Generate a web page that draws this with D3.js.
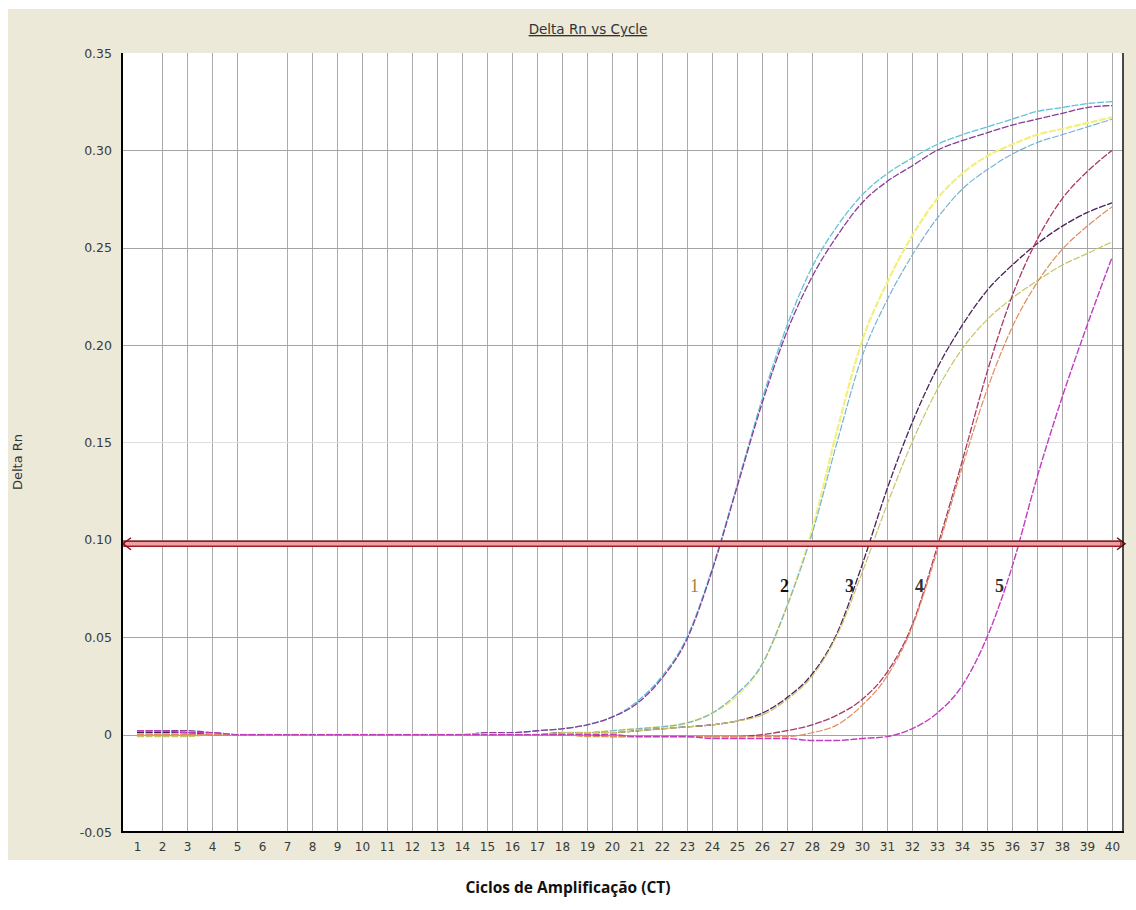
<!DOCTYPE html>
<html>
<head>
<meta charset="utf-8">
<script src="https://cdn.jsdelivr.net/npm/d3@7"></script>
<style>
  html, body { margin: 0; padding: 0; background: #ffffff; }
  svg { display: block; }
</style>
</head>
<body>
<svg id="chart" width="1136" height="910"></svg>
<script>
// ---------------- DATA ----------------
const cycles = [1,2,3,4,5,6,7,8,9,10,11,12,13,14,15,16,17,18,19,20,
                21,22,23,24,25,26,27,28,29,30,31,32,33,34,35,36,37,38,39,40];
const xTickLabels = ["1","2","3","4","5","6","7","8","9","10","11","12","13","14","15","16","17","18","19","20",
                     "21","22","23","24","25","26","27","28","29","30","31","32","33","34","35","36","37","38","39","40"];
const yTickValues = [-0.05, 0, 0.05, 0.10, 0.15, 0.20, 0.25, 0.30, 0.35];
const yTickLabels = ["-0.05", "0", "0.05", "0.10", "0.15", "0.20", "0.25", "0.30", "0.35"];
const gridHidden = [1, 6, 29];
const threshold = 0.098;

const seriesNames = ["1a","1b","2a","2b","3a","3b","4a","4b","5"];
const s1a = [0.002,0.002,0.001,0.001,0.000,0.000,0.000,0.000,0.000,0.000,0.000,0.000,0.000,0.000,0.001,0.001,0.002,0.003,0.005,0.009,
             0.017,0.030,0.050,0.085,0.128,0.172,0.210,0.240,0.261,0.277,0.288,0.296,0.303,0.308,0.312,0.316,0.320,0.322,0.324,0.325];
const s1b = [0.002,0.002,0.002,0.001,0.000,0.000,0.000,0.000,0.000,0.000,0.000,0.000,0.000,0.000,0.001,0.001,0.002,0.003,0.005,0.009,
             0.016,0.029,0.049,0.084,0.127,0.170,0.207,0.235,0.256,0.273,0.284,0.292,0.300,0.305,0.309,0.313,0.316,0.319,0.322,0.323];
const s2a = [0.000,0.000,0.000,0.000,0.000,0.000,0.000,0.000,0.000,0.000,0.000,0.000,0.000,0.000,0.000,0.000,0.000,0.001,0.001,0.002,
             0.003,0.004,0.006,0.011,0.020,0.036,0.066,0.105,0.156,0.202,0.232,0.256,0.275,0.288,0.297,0.303,0.308,0.311,0.314,0.317];
const s2b = [0.000,0.000,0.000,0.000,0.000,0.000,0.000,0.000,0.000,0.000,0.000,0.000,0.000,0.000,0.000,0.000,0.000,0.001,0.001,0.002,
             0.003,0.004,0.006,0.011,0.021,0.036,0.066,0.103,0.150,0.194,0.223,0.246,0.265,0.280,0.290,0.298,0.304,0.308,0.312,0.316];
const s3a = [0.001,0.001,0.001,0.000,0.000,0.000,0.000,0.000,0.000,0.000,0.000,0.000,0.000,0.000,0.000,0.000,0.000,0.001,0.001,0.001,
             0.002,0.003,0.004,0.005,0.007,0.011,0.019,0.031,0.052,0.087,0.126,0.160,0.188,0.210,0.228,0.241,0.252,0.261,0.268,0.273];
const s3b = [-0.001,-0.001,-0.001,0.000,0.000,0.000,0.000,0.000,0.000,0.000,0.000,0.000,0.000,0.000,0.000,0.000,0.000,0.001,0.001,0.001,
             0.002,0.003,0.004,0.005,0.007,0.010,0.018,0.030,0.051,0.083,0.118,0.150,0.177,0.198,0.213,0.224,0.233,0.241,0.247,0.253];
const s4a = [0.000,0.000,0.000,0.000,0.000,0.000,0.000,0.000,0.000,0.000,0.000,0.000,0.000,0.000,0.000,0.000,0.000,0.000,0.000,-0.001,
             -0.001,-0.001,-0.001,-0.001,-0.001,0.000,0.002,0.005,0.010,0.018,0.032,0.056,0.096,0.140,0.186,0.225,0.254,0.275,0.289,0.300];
const s4b = [0.000,0.000,0.000,0.000,0.000,0.000,0.000,0.000,0.000,0.000,0.000,0.000,0.000,0.000,0.000,0.000,0.000,0.000,-0.001,-0.001,
             -0.001,-0.001,-0.001,-0.001,-0.001,-0.001,-0.001,0.001,0.005,0.015,0.030,0.055,0.094,0.137,0.177,0.209,0.232,0.249,0.261,0.271];
const s5  = [0.002,0.002,0.001,0.001,0.000,0.000,0.000,0.000,0.000,0.000,0.000,0.000,0.000,0.000,0.000,0.000,0.000,0.000,0.000,0.000,
             -0.001,-0.001,-0.001,-0.002,-0.002,-0.002,-0.002,-0.003,-0.003,-0.002,-0.001,0.003,0.011,0.025,0.050,0.086,0.132,0.173,0.210,0.245];
const seriesValues = [s1a, s1b, s2a, s2b, s3a, s3b, s4a, s4b, s5];
const seriesColors = ["#5ec4dc","#8a3c98","#f2f07a","#78b4d4","#4a2058","#c8c464","#a83868","#e08c5c","#c23cc0"];
const seriesWidths = [1.3,1.3,2.2,1.2,1.3,1.2,1.3,1.2,1.4];

const curveLabels = ["1","2","3","4","5"];
const curveLabelCycles = [23.3, 26.9, 29.5, 32.3, 35.5];
const curveLabelValues = [0.073, 0.073, 0.073, 0.073, 0.073];
const curveLabelColors = ["#a88040","#111111","#222222","#333333","#333333"];

// ---------------- LAYOUT ----------------
const svg = d3.select("#chart");
const plot = {left: 122, right: 1123, top: 53, bottom: 832};

const x = d3.scaleLinear().domain([0.4, 40.44]).range([plot.left, plot.right]);
const y = d3.scaleLinear().domain([-0.05, 0.35]).range([plot.bottom, plot.top]);

// backgrounds
svg.append("rect").attr("x", 0).attr("y", 0).attr("width", 1136).attr("height", 910).attr("fill", "#ffffff");
svg.append("rect").attr("x", 8).attr("y", 9).attr("width", 1128).attr("height", 851).attr("fill", "#ece9d8");
svg.append("rect").attr("x", plot.left).attr("y", plot.top)
   .attr("width", plot.right - plot.left).attr("height", plot.bottom - plot.top).attr("fill", "#ffffff");

// gridlines
const grid = svg.append("g");
grid.selectAll("line.v").data(cycles.filter(c => !gridHidden.includes(c))).join("line")
  .attr("x1", d => Math.round(x(d)) + 0.5).attr("x2", d => Math.round(x(d)) + 0.5)
  .attr("y1", plot.top).attr("y2", plot.bottom)
  .attr("stroke", "#ababab").attr("stroke-width", 1);
grid.selectAll("line.h").data(yTickValues.filter(v => v > -0.05 && v < 0.35)).join("line")
  .attr("x1", plot.left).attr("x2", plot.right)
  .attr("y1", d => Math.round(y(d)) + 0.5).attr("y2", d => Math.round(y(d)) + 0.5)
  .attr("stroke", d => Math.abs(d - 0.15) < 1e-6 ? "#dedede" : "#a4a4a4").attr("stroke-width", 1);

// curves
const line = d3.line()
  .x((d, i) => x(cycles[i]))
  .y(d => y(d))
  .curve(d3.curveMonotoneX);
svg.append("g").selectAll("path").data(seriesValues).join("path")
  .attr("d", d => line(d))
  .attr("fill", "none")
  .attr("stroke", (d, i) => seriesColors[i])
  .attr("stroke-width", (d, i) => seriesWidths[i])
  .attr("stroke-dasharray", "7,1.6");

// threshold line (double red with arrowheads)
const ty = y(threshold);
const thr = svg.append("g");
thr.append("rect").attr("x", plot.left + 2).attr("y", ty - 2.5)
   .attr("width", plot.right - plot.left - 4).attr("height", 5)
   .attr("fill", "#eea0a4").attr("stroke", "#a0141c").attr("stroke-width", 1.4);
thr.append("path")
   .attr("d", `M${plot.left + 9},${ty - 6} L${plot.left + 1},${ty} L${plot.left + 9},${ty + 6}`)
   .attr("fill", "none").attr("stroke", "#8a1018").attr("stroke-width", 1.5);
thr.append("path")
   .attr("d", `M${plot.right - 6},${ty - 6} L${plot.right + 2},${ty} L${plot.right - 6},${ty + 6}`)
   .attr("fill", "none").attr("stroke", "#6a1010").attr("stroke-width", 1.5);

// curve number labels
svg.append("g").selectAll("text").data(curveLabels).join("text")
  .attr("x", (d, i) => x(curveLabelCycles[i]))
  .attr("y", (d, i) => y(curveLabelValues[i]))
  .attr("text-anchor", "middle")
  .attr("font-family", "'Liberation Serif', 'DejaVu Serif', serif")
  .attr("font-size", 18)
  .attr("font-weight", (d, i) => i === 0 ? "normal" : "bold")
  .attr("fill", (d, i) => curveLabelColors[i])
  .text(d => d);

// axes
const yAxis = d3.axisLeft(y).tickValues(yTickValues).tickSize(0).tickPadding(10)
  .tickFormat((d, i) => yTickLabels[i]);
const gy = svg.append("g").attr("transform", `translate(${plot.left},0)`).call(yAxis);
gy.select(".domain").remove();
gy.selectAll("text").attr("font-family", "'DejaVu Sans', sans-serif").attr("font-size", 12.5).attr("fill", "#3a3a3a");

const xAxis = d3.axisBottom(x).tickValues(cycles).tickSize(0).tickPadding(10)
  .tickFormat((d, i) => xTickLabels[i]);
const gx = svg.append("g").attr("transform", `translate(0,${plot.bottom})`).call(xAxis);
gx.select(".domain").remove();
gx.selectAll("text").attr("font-family", "'DejaVu Sans', sans-serif").attr("font-size", 12).attr("fill", "#3a3a3a");

// frame lines
svg.append("line").attr("x1", plot.left).attr("x2", plot.left).attr("y1", plot.top).attr("y2", plot.bottom + 1)
   .attr("stroke", "#000").attr("stroke-width", 2);
svg.append("line").attr("x1", plot.left - 1).attr("x2", plot.right + 1).attr("y1", plot.bottom).attr("y2", plot.bottom)
   .attr("stroke", "#000").attr("stroke-width", 2);
svg.append("line").attr("x1", plot.right).attr("x2", plot.right).attr("y1", plot.top).attr("y2", plot.bottom)
   .attr("stroke", "#111").attr("stroke-width", 1.5);

// titles
svg.append("text").attr("x", 588).attr("y", 34).attr("text-anchor", "middle")
  .attr("font-family", "'DejaVu Sans', sans-serif").attr("font-size", 13.5).attr("fill", "#333")
  .attr("text-decoration", "underline")
  .text("Delta Rn vs Cycle");

svg.append("text").attr("transform", "translate(22,462) rotate(-90)").attr("text-anchor", "middle")
  .attr("font-family", "'DejaVu Sans', sans-serif").attr("font-size", 13).attr("fill", "#333")
  .text("Delta Rn");

svg.append("text").attr("x", 568).attr("y", 893).attr("text-anchor", "middle")
  .attr("font-family", "'Open Sans', 'Noto Sans', sans-serif").attr("font-size", 15.5).attr("font-weight", "bold")
  .attr("fill", "#111")
  .text("Ciclos de Amplificação (CT)");
</script>
</body>
</html>
